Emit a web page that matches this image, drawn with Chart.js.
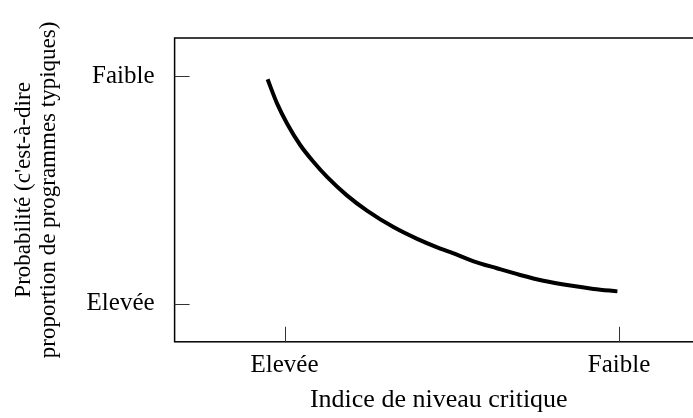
<!DOCTYPE html>
<html>
<head>
<meta charset="utf-8">
<script src="https://cdn.jsdelivr.net/npm/chart.js@4.4.1/dist/chart.umd.min.js"></script>
<style>
  html, body { margin: 0; padding: 0; background: #fff; overflow: hidden; }
  #wrap { position: relative; width: 713px; height: 418px; }
</style>
</head>
<body>
<div id="wrap"><canvas id="courbe"></canvas></div>
<script>
// Données (échelles 0-100)
const indiceX = [17.6, 19.4, 21.3, 23.8, 26.3, 28.9, 32.6, 36.4, 41.5, 45.9, 49.7, 52.2, 56.6, 61.0, 65.4, 69.8, 74.9, 79.3, 83.8];
const probaY  = [86.4, 78.4, 71.8, 64.7, 59.2, 54.2, 48.2, 43.2, 37.7, 33.9, 31.1, 29.5, 26.5, 24.2, 22.0, 20.1, 18.5, 17.4, 16.6];

const xTickValues = [20.8, 84.1];
const xTickLabels = ['Elevée', 'Faible'];
const yTickValues = [12.5, 87.5];
const yTickLabels = ['Elevée', 'Faible'];

const police = "'Liberation Serif', 'Times New Roman', serif";

// Cadre + petites graduations vers l'intérieur
const cadrePlugin = {
    id: 'cadre',
    afterDraw(chart) {
        const { ctx, chartArea: a, scales } = chart;
        ctx.save();
        ctx.strokeStyle = '#000';
        ctx.lineWidth = 1.5;
        ctx.strokeRect(a.left, a.top, a.right - a.left, a.bottom - a.top);

        ctx.strokeStyle = '#333';
        ctx.lineWidth = 1;
        scales.x.ticks.forEach(t => {
            const px = Math.round(scales.x.getPixelForValue(t.value)) + 0.5;
            ctx.beginPath();
            ctx.moveTo(px, a.bottom);
            ctx.lineTo(px, a.bottom - 15);
            ctx.stroke();
        });
        scales.y.ticks.forEach(t => {
            const py = Math.round(scales.y.getPixelForValue(t.value)) + 0.5;
            ctx.beginPath();
            ctx.moveTo(a.left, py);
            ctx.lineTo(a.left + 15, py);
            ctx.stroke();
        });
        ctx.restore();
    }
};

const ctx = document.getElementById('courbe').getContext('2d');
new Chart(ctx, {
    type: 'line',
    data: {
        datasets: [{
            data: indiceX.map((x, i) => ({ x: x, y: probaY[i] })),
            borderColor: '#000',
            borderWidth: 4,
            pointRadius: 0,
            fill: false,
            cubicInterpolationMode: 'monotone'
        }]
    },
    options: {
        responsive: true,
        maintainAspectRatio: false,
        animation: false,
        layout: { padding: { top: 38, right: 10, left: 8, bottom: 0 } },
        plugins: {
            legend: { display: false },
            tooltip: { enabled: false }
        },
        scales: {
            x: {
                type: 'linear',
                min: 0,
                max: 100,
                afterBuildTicks: s => { s.ticks = xTickValues.map(v => ({ value: v })); },
                grid: { display: false, drawTicks: false },
                border: { display: false },
                ticks: {
                    autoSkip: false,
                    maxRotation: 0,
                    padding: 9,
                    color: '#000',
                    font: { family: police, size: 25 },
                    callback: (v, i) => xTickLabels[i]
                },
                title: {
                    display: true,
                    text: 'Indice de niveau critique',
                    color: '#000',
                    font: { family: police, size: 26 },
                    padding: { top: -5, bottom: 2 }
                }
            },
            y: {
                type: 'linear',
                min: 0,
                max: 100,
                afterBuildTicks: s => { s.ticks = yTickValues.map(v => ({ value: v })); },
                grid: { display: false, drawTicks: false },
                border: { display: false },
                ticks: {
                    autoSkip: false,
                    padding: 20,
                    color: '#000',
                    font: { family: police, size: 25 },
                    callback: (v, i) => yTickLabels[i]
                },
                title: {
                    display: true,
                    text: ["Probabilité (c'est-à-dire", 'proportion de programmes typiques)'],
                    color: '#000',
                    font: { family: police, size: 23, lineHeight: 1.1 },
                    padding: { top: 3, bottom: 5 }
                }
            }
        }
    },
    plugins: [cadrePlugin]
});
</script>
</body>
</html>
